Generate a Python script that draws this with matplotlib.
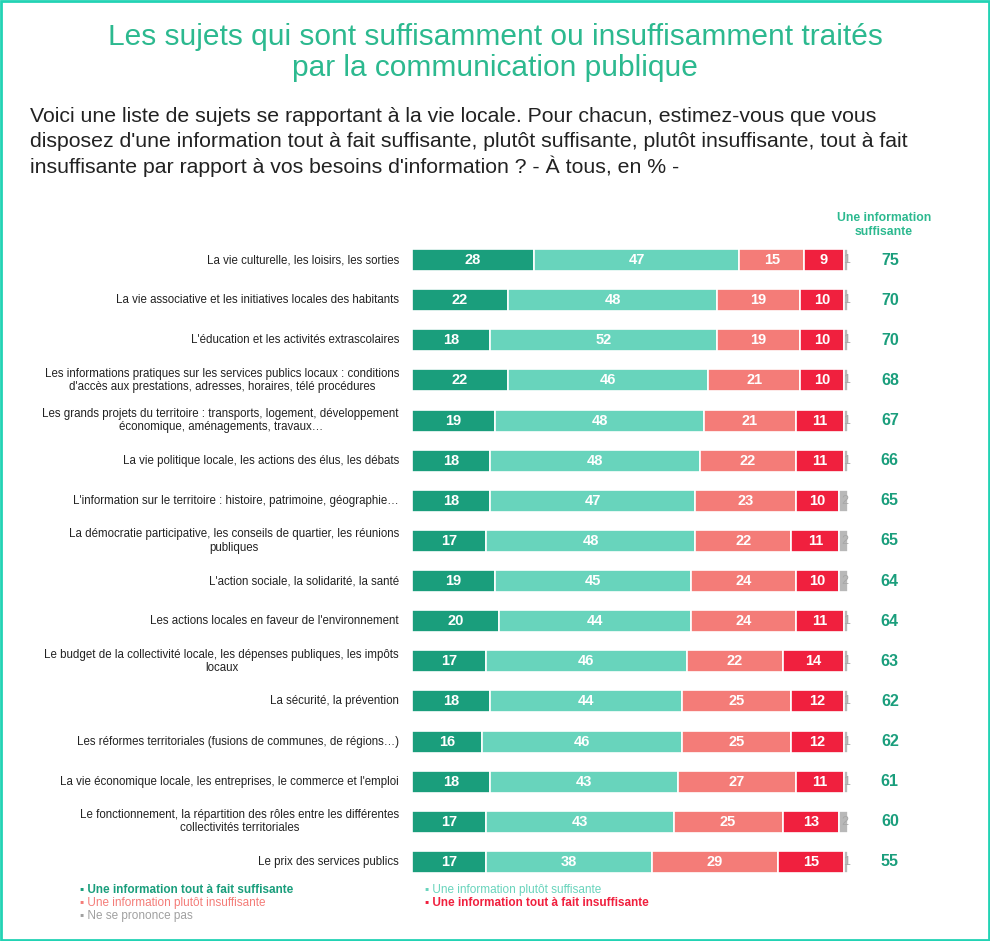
import numpy as np
import matplotlib.pyplot as plt
from matplotlib.patches import Rectangle

sujets = [
    "La vie culturelle, les loisirs, les sorties",
    "La vie associative et les initiatives locales des habitants",
    "L'éducation et les activités extrascolaires",
    "Les informations pratiques sur les services publics locaux : conditions\nd'accès aux prestations, adresses, horaires, télé procédures",
    "Les grands projets du territoire : transports, logement, développement\néconomique, aménagements, travaux…",
    "La vie politique locale, les actions des élus, les débats",
    "L'information sur le territoire : histoire, patrimoine, géographie…",
    "La démocratie participative, les conseils de quartier, les réunions\npubliques",
    "L'action sociale, la solidarité, la santé",
    "Les actions locales en faveur de l'environnement",
    "Le budget de la collectivité locale, les dépenses publiques, les impôts\nlocaux",
    "La sécurité, la prévention",
    "Les réformes territoriales (fusions de communes, de régions…)",
    "La vie économique locale, les entreprises, le commerce et l'emploi",
    "Le fonctionnement, la répartition des rôles entre les différentes\ncollectivités territoriales",
    "Le prix des services publics",
]
tout_suff = [28, 22, 18, 22, 19, 18, 18, 17, 19, 20, 17, 18, 16, 18, 17, 17]
plutot_suff = [47, 48, 52, 46, 48, 48, 47, 48, 45, 44, 46, 44, 46, 43, 43, 38]
plutot_insuff = [15, 19, 19, 21, 21, 22, 23, 22, 24, 24, 22, 25, 25, 27, 25, 29]
tout_insuff = [9, 10, 10, 10, 11, 11, 10, 11, 10, 11, 14, 12, 12, 11, 13, 15]
nsp = [1, 1, 1, 1, 1, 1, 2, 2, 2, 1, 1, 1, 1, 1, 2, 1]
total_suff = [75, 70, 70, 68, 67, 66, 65, 65, 64, 64, 63, 62, 62, 61, 60, 55]

series = [tout_suff, plutot_suff, plutot_insuff, tout_insuff, nsp]
noms = ["Une information tout à fait suffisante", "Une information plutôt suffisante",
        "Une information plutôt insuffisante", "Une information tout à fait insuffisante",
        "Ne se prononce pas"]
couleurs = ["#1a9e7c", "#68d4bc", "#f47c78", "#f0203e", "#b8b8b8"]
vert = "#1a9e7c"

plt.rcParams['font.family'] = ['Liberation Sans', 'DejaVu Sans']

W, H = 990, 941
fig = plt.figure(figsize=(W / 100, H / 100), dpi=100)

# cadre
fig.patches.append(Rectangle((0.001, 0.001), 0.998, 0.998, transform=fig.transFigure,
                             fill=False, edgecolor="#22d3b4", linewidth=2))

fig.text(0.5, 1 - 37 / H, "Les sujets qui sont suffisamment ou insuffisamment traités",
         ha="center", va="center", fontsize=21.5, color="#2cb98f")
fig.text(0.5, 1 - 68 / H, "par la communication publique",
         ha="center", va="center", fontsize=21.5, color="#2cb98f")
sous_titre = ["Voici une liste de sujets se rapportant à la vie locale. Pour chacun, estimez-vous que vous",
              "disposez d'une information tout à fait suffisante, plutôt suffisante, plutôt insuffisante, tout à fait",
              "insuffisante par rapport à vos besoins d'information ? - À tous, en % -"]
for i, ligne in enumerate(sous_titre):
    fig.text(30 / W, 1 - (117 + i * 24.5) / H, ligne, ha="left", va="center",
             fontsize=15.3, color="#222222")

# axe des barres : 0-100 entre les pixels 412 et 848
x0, x1 = 412, 848
ytop, ybot = 240, 882
ax = fig.add_axes([x0 / W, 1 - ybot / H, (x1 - x0) / W, (ybot - ytop) / H])
n = len(sujets)
y = np.arange(n)
gauche = np.zeros(n)
for k, (vals, c) in enumerate(zip(series, couleurs)):
    vals = np.array(vals, dtype=float)
    ax.barh(y, vals, left=gauche, height=0.55, color=c, edgecolor="white", linewidth=1.2)
    for yi, (g, v) in enumerate(zip(gauche, vals)):
        if k < 4:
            ax.text(g + v / 2, yi, "%d" % v, ha="center", va="center",
                    color="white", fontsize=10.5, fontweight="bold")
        else:
            ax.text(g + v / 2 + 0.2, yi, "%d" % v, ha="center", va="center",
                    color="#a8a8a8", fontsize=9)
    gauche += vals

for yi, s in enumerate(sujets):
    ax.text(-3, yi, s, ha="right", va="center", multialignment="center",
            fontsize=8.3, color="#222222", linespacing=1.15)
    ax.text(109.6, yi, "%d" % total_suff[yi], ha="center", va="center",
            fontsize=11.5, fontweight="bold", color=vert)

ax.text(108.2, -0.88, "Une information\nsuffisante", ha="center", va="center",
        fontsize=8.8, fontweight="bold", color="#2cb98f", linespacing=1.25)

ax.set_xlim(0, 100)
ax.set_ylim(n - 0.5, -0.5)
ax.axis("off")

# légende
pos = [(80, 890), (425, 890), (80, 903), (425, 903), (80, 916)]
for (px, py), k in zip(pos, range(5)):
    fig.text(px / W, 1 - py / H, "\u25aa " + noms[k], ha="left", va="center",
             fontsize=8.5, fontweight="bold" if k in (0, 3) else "normal",
             color=couleurs[k] if k != 4 else "#a0a0a0")

plt.savefig("out.png", dpi=100)
